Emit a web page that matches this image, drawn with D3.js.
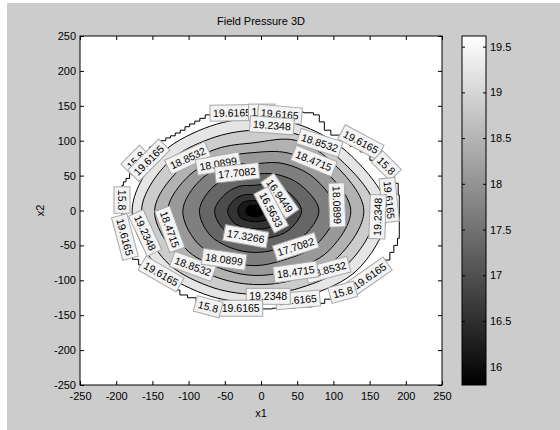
<!DOCTYPE html>
<html>
<head>
<meta charset="utf-8">
<script src="https://cdn.jsdelivr.net/npm/d3@7"></script>
<style>
  body { margin: 0; background: #fff; }
  svg { display: block; font-family: "Liberation Sans", Arial, sans-serif; }
</style>
</head>
<body>
<div id="chart-area"></div>
<script>
// contour levels (lowest = colour axis min, highest = colour axis max)
const levels = [15.8, 16.1817, 16.5633, 16.9449, 17.3266, 17.7082, 18.0899, 18.4715, 18.8532, 19.2348, 19.6165];

// each contour ring: radius (data units) around the low point, at these angles
const ringCenter = [-10, 0];
const ringAngles = [0, 30, 60, 90, 120, 150, 180, 210, 240, 270, 300, 330];
const ring1 = [15, 13, 10, 7, 9, 10, 11, 11, 9, 9, 10, 13];
const ring2 = [29, 24, 17, 14, 16, 20, 22, 21, 17, 16, 18, 24];
const ring3 = [46, 38, 28, 23, 26, 31, 36, 33, 28, 26, 30, 38];
const ring4 = [66, 54, 43, 36, 40, 46, 54, 50, 43, 40, 45, 56];
const ring5 = [90, 74, 60, 52, 57, 66, 75, 70, 62, 60, 64, 77];
const ring6 = [113, 95, 78, 67, 75, 86, 98, 91, 81, 79, 82, 99];
const ring7 = [134, 113, 95, 83, 87, 102, 119, 109, 95, 93, 99, 118];
const ring8 = [152, 130, 116, 97, 102, 118, 137, 124, 109, 106, 114, 134];
const ring9 = [168, 141, 125, 115, 119, 137, 155, 142, 125, 120, 128, 151];
const ring10 = [184, 156, 139, 132, 136, 153, 168, 156, 138, 132, 142, 167];
const rings = [ring1, ring2, ring3, ring4, ring5, ring6, ring7, ring8, ring9, ring10];

// edge of the data region (field drops off here, all levels coincide)
const edgeX = [-192, -192, -188, -185, -178, -171, -164, -157, -151, -142, -135, -128, -122, -115, -108, -102, -95, -88, -81, -73, -64, -50, -29, -1, 26, 50, 68, 77, 84, 91, 102, 116, 130, 144, 157, 171, 181, 188, 191, 191, 191, 186, 181, 175, 168, 157, 144, 126, 109, 95, 81, 61, 33, -1, -36, -64, -84, -95, -108, -116, -126, -140, -153, -164, -174, -181, -186, -191, -192];
const edgeY = [22, 36, 41, 46, 55, 65, 75, 84, 91, 95, 100, 104, 107, 111, 115, 120, 124, 128, 132, 137, 141, 142, 144, 144, 142, 141, 140, 137, 127, 115, 108, 101, 92, 84, 72, 61, 51, 39, 22, -14, -40, -50, -60, -71, -83, -95, -105, -114, -121, -127, -133, -138, -140, -141, -140, -137, -133, -125, -121, -114, -107, -97, -88, -78, -70, -61, -50, -35, -14];

// inline contour labels: text, x, y, rotation
const contourLabels = [
  ["19.6165", -40, 140, -1],
  ["15.8", 1, 141, 0],
  ["19.6165", 26, 138, 5],
  ["19.2348", 15, 122, 4],
  ["18.8532", 81, 97, 18],
  ["18.4715", 73, 71, 22],
  ["19.6165", 138, 98, 28],
  ["15.8", 173, 64, 45],
  ["19.6165", 177, 15, 84],
  ["19.2348", 161, -9, -88],
  ["18.0899", 105, 8, 88],
  ["16.9449", 26, 21, 55],
  ["16.5633", 14, 1, 62],
  ["17.7082", 48, -52, -18],
  ["18.8532", 92, -85, -15],
  ["18.4715", 48, -88, -8],
  ["19.6165", 150, -94, -35],
  ["15.8", 113, -117, -15],
  ["19.6165", 51, -128, -5],
  ["19.2348", 10, -123, 0],
  ["19.6165", -28, -140, 0],
  ["15.8", -73, -138, 15],
  ["19.6165", -138, -91, 30],
  ["18.8532", -94, -80, 20],
  ["18.0899", -51, -70, 8],
  ["17.3266", -21, -37, 10],
  ["19.6165", -188, -38, 75],
  ["19.2348", -160, -32, 65],
  ["18.4715", -126, -27, 70],
  ["15.8", -192, 15, 90],
  ["15.8", -173, 72, -45],
  ["19.6165", -155, 72, -45],
  ["18.8532", -101, 75, -25],
  ["18.0899", -59, 67, -10],
  ["17.7082", -33, 54, -6]
];

const xTicks = [-250, -200, -150, -100, -50, 0, 50, 100, 150, 200, 250];
const yTicks = [-250, -200, -150, -100, -50, 0, 50, 100, 150, 200, 250];
const cbTicks = [16, 16.5, 17, 17.5, 18, 18.5, 19, 19.5];

const width = 560;
const height = 430;

const svg = d3.select("#chart-area")
    .append("svg")
    .attr("width", width)
    .attr("height", height);

// figure background
svg.append("rect")
    .attr("x", 7).attr("y", 3)
    .attr("width", width - 7).attr("height", height - 3)
    .attr("fill", "#cccccc");

const x = d3.scaleLinear().domain([-250, 250]).range([80, 442]);
const y = d3.scaleLinear().domain([-250, 250]).range([385, 36]);
const cb = d3.scaleLinear().domain([levels[0], levels[levels.length - 1]]).range([385, 36]);

const gray = v => {
    const t = (v - levels[0]) / (levels[levels.length - 1] - levels[0]);
    const c = Math.round(255 * Math.max(0, Math.min(1, t)));
    return d3.rgb(c, c, c).toString();
};

svg.append("rect")
    .attr("x", x(-250)).attr("y", y(250))
    .attr("width", x(250) - x(-250)).attr("height", y(-250) - y(250))
    .attr("fill", "#fff");

const ringLine = d3.line()
    .x(p => x(p[0]))
    .y(p => y(p[1]))
    .curve(d3.curveCatmullRomClosed);

const ringPoints = r => ringAngles.map((a, i) => {
    const t = a * Math.PI / 180;
    return [ringCenter[0] + r[i] * Math.cos(t), ringCenter[1] + r[i] * Math.sin(t)];
});

const plot = svg.append("g");

// filled bands, outermost first; each band coloured by its lower level
for (let k = rings.length - 1; k >= 0; k--) {
    plot.append("path")
        .attr("d", ringLine(ringPoints(rings[k])))
        .attr("fill", gray(levels[k]))
        .attr("stroke", "none");
}
rings.forEach(r => {
    plot.append("path")
        .attr("d", ringLine(ringPoints(r)))
        .attr("fill", "none")
        .attr("stroke", "#000")
        .attr("stroke-width", 1);
});

const edgePts = edgeX.map((v, i) => [v, edgeY[i]]);
edgePts.push(edgePts[0]);
plot.append("path")
    .attr("d", d3.line().x(p => x(p[0])).y(p => y(p[1])).curve(d3.curveStep)(edgePts))
    .attr("fill", "none")
    .attr("stroke", "#000")
    .attr("stroke-width", 1);

// contour labels
const lab = plot.selectAll("g.clabel")
    .data(contourLabels)
    .enter().append("g")
    .attr("class", "clabel")
    .attr("transform", d => `translate(${x(d[1])},${y(d[2])}) rotate(${d[3]})`);
lab.append("rect");
lab.append("text")
    .attr("text-anchor", "middle")
    .attr("dy", "0.36em")
    .attr("font-size", 10.5)
    .attr("fill", "#000")
    .text(d => d[0]);
lab.each(function() {
    const g = d3.select(this);
    const w = g.select("text").node().getComputedTextLength() + 6;
    g.select("rect")
        .attr("x", -w / 2).attr("y", -8)
        .attr("width", w).attr("height", 16)
        .attr("fill", "#f3f3f3")
        .attr("stroke", "#a8a8a8")
        .attr("stroke-width", 1);
});

// axes
const fmt = d => String(d);
const axB = svg.append("g").attr("transform", `translate(0,${y(-250)})`)
    .call(d3.axisBottom(x).tickValues(xTicks).tickSize(-4).tickPadding(7).tickFormat(fmt));
const axT = svg.append("g").attr("transform", `translate(0,${y(250)})`)
    .call(d3.axisTop(x).tickValues(xTicks).tickSize(-4).tickFormat(""));
const axL = svg.append("g").attr("transform", `translate(${x(-250)},0)`)
    .call(d3.axisLeft(y).tickValues(yTicks).tickSize(-4).tickPadding(4).tickFormat(fmt));
const axR = svg.append("g").attr("transform", `translate(${x(250)},0)`)
    .call(d3.axisRight(y).tickValues(yTicks).tickSize(-4).tickFormat(""));
[axB, axT, axL, axR].forEach(a => {
    a.select(".domain").remove();
    a.selectAll("text").attr("font-size", 11).attr("fill", "#000").attr("font-family", "Liberation Sans, Arial, sans-serif");
    a.selectAll("line").attr("stroke", "#000");
});

svg.append("rect")
    .attr("x", x(-250)).attr("y", y(250))
    .attr("width", x(250) - x(-250)).attr("height", y(-250) - y(250))
    .attr("fill", "none").attr("stroke", "#000").attr("stroke-width", 1);

svg.append("text")
    .attr("x", x(0)).attr("y", 25)
    .attr("text-anchor", "middle").attr("font-size", 11)
    .text("Field Pressure 3D");
svg.append("text")
    .attr("x", x(0)).attr("y", 417)
    .attr("text-anchor", "middle").attr("font-size", 11)
    .text("x1");
svg.append("text")
    .attr("transform", `translate(44,${y(0)}) rotate(-90)`)
    .attr("text-anchor", "middle").attr("font-size", 11)
    .text("x2");

// colorbar
const defs = svg.append("defs");
const grad = defs.append("linearGradient")
    .attr("id", "cbgrad")
    .attr("x1", 0).attr("y1", 1).attr("x2", 0).attr("y2", 0);
grad.append("stop").attr("offset", 0).attr("stop-color", "#000");
grad.append("stop").attr("offset", 1).attr("stop-color", "#fff");

const cbX = 462, cbW = 24;
svg.append("rect")
    .attr("x", cbX).attr("y", cb.range()[1])
    .attr("width", cbW).attr("height", cb.range()[0] - cb.range()[1])
    .attr("fill", "url(#cbgrad)");
const cbR = svg.append("g").attr("transform", `translate(${cbX + cbW},0)`)
    .call(d3.axisRight(cb).tickValues(cbTicks).tickSize(-3).tickPadding(4).tickFormat(fmt));
const cbL = svg.append("g").attr("transform", `translate(${cbX},0)`)
    .call(d3.axisLeft(cb).tickValues(cbTicks).tickSize(-3).tickFormat(""));
[cbR, cbL].forEach(a => {
    a.select(".domain").remove();
    a.selectAll("text").attr("font-size", 11).attr("fill", "#000").attr("font-family", "Liberation Sans, Arial, sans-serif");
    a.selectAll("line").attr("stroke", "#000");
});
svg.append("rect")
    .attr("x", cbX).attr("y", cb.range()[1])
    .attr("width", cbW).attr("height", cb.range()[0] - cb.range()[1])
    .attr("fill", "none").attr("stroke", "#000").attr("stroke-width", 1);
</script>
</body>
</html>
